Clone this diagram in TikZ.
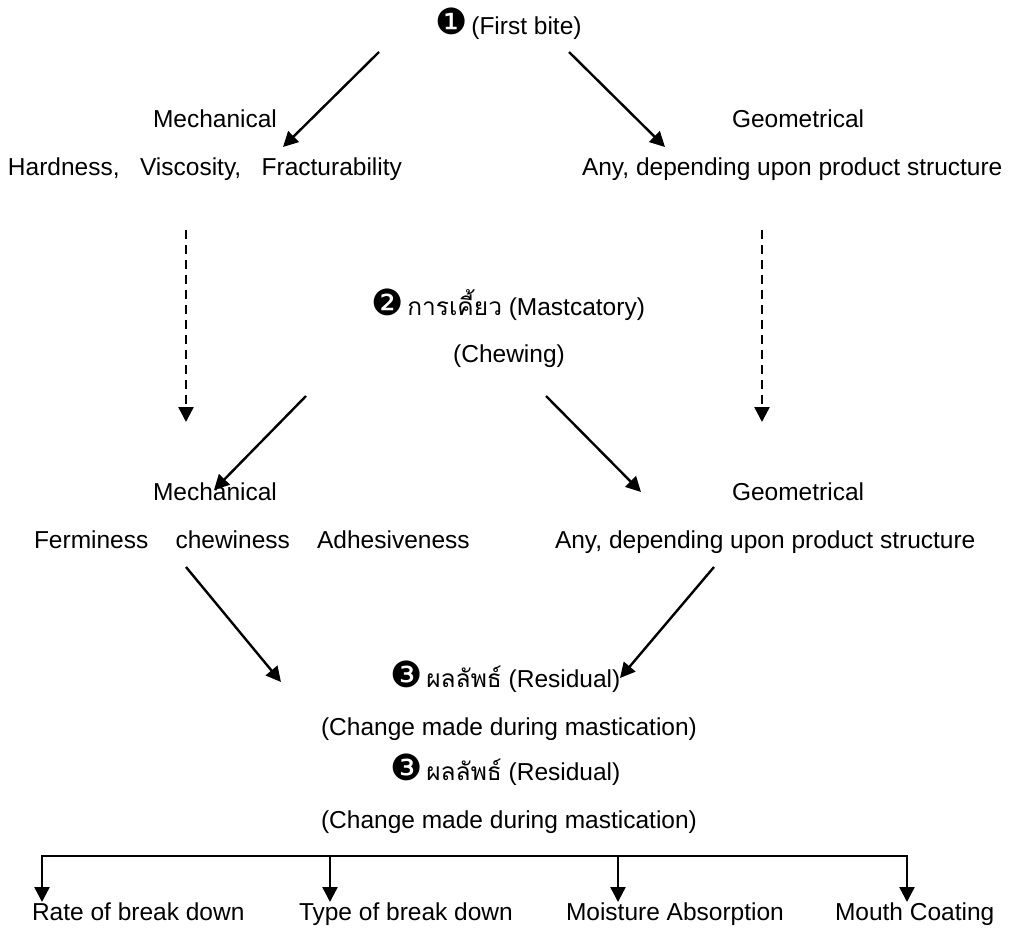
\documentclass[tikz,border=0pt]{standalone}
\usepackage{fontspec}
\setmainfont{Liberation Sans}
\newfontfamily\thaifont[Script=Thai]{Loma}
\newfontfamily\dingfont{DejaVu Sans}
\usetikzlibrary{arrows.meta}
\newcommand{\numc}[1]{{\dingfont\fontsize{36}{36}\selectfont #1}}
\newcommand{\thtxt}[1]{{\thaifont #1}}
\begin{document}
\begin{tikzpicture}[x=1pt,y=-1pt,
  lbl/.style={inner sep=0pt,outer sep=0pt,font=\fontsize{24.5}{29}\selectfont},
  arr/.style={line width=2.4pt,-{Triangle[length=15pt,width=15pt]}},
  darr/.style={arr,dash pattern=on 9pt off 6pt}]
\useasboundingbox (0,0) rectangle (1011,929);
% texts
\node[lbl,anchor=base west] (first) at (435,34) {\numc{❶}\,(First bite)};
\node[lbl,anchor=base] (mech1) at (215,127) {Mechanical};
\node[lbl,anchor=base west] (mechp1) at (8,175) {Hardness,\ \ \ Viscosity,\ \ \ Fracturability};
\node[lbl,anchor=base west] (geo1) at (732,127) {Geometrical};
\node[lbl,anchor=base west] (geop1) at (582,175) {Any, depending upon product structure};
\node[lbl,anchor=base west] (chew) at (371,315) {\numc{❷}\,\thtxt{การเคี้ยว} (Mastcatory)};
\node[lbl,anchor=base] (chew2) at (509,362) {(Chewing)};
\node[lbl,anchor=base] (mech2) at (215,500) {Mechanical};
\node[lbl,anchor=base west] (mechp2) at (34,548) {Ferminess\ \ \ \ chewiness\ \ \ \ Adhesiveness};
\node[lbl,anchor=base west] (geo2) at (732,500) {Geometrical};
\node[lbl,anchor=base west] (geop2) at (555,548) {Any, depending upon product structure};
\node[lbl,anchor=base west] (res1) at (390,687) {\numc{❸}\,\thtxt{ผลลัพธ์} (Residual)};
\node[lbl,anchor=base] (chg1) at (509,735) {(Change made during mastication)};
\node[lbl,anchor=base west] (res2) at (390,780) {\numc{❸}\,\thtxt{ผลลัพธ์} (Residual)};
\node[lbl,anchor=base] (chg2) at (509,828) {(Change made during mastication)};
\node[lbl,anchor=base west] (o1) at (32,920) {Rate of break down};
\node[lbl,anchor=base west] (o2) at (299,920) {Type of break down};
\node[lbl,anchor=base west] (o3) at (566,920) {Moisture Absorption};
\node[lbl,anchor=base west] (o4) at (835,920) {Mouth Coating};
% connector end points
\coordinate (s1) at (379,52);  \coordinate (t1) at (283,147);
\coordinate (s2) at (569,52);  \coordinate (t2) at (665,147);
\coordinate (s3) at (186,230); \coordinate (t3) at (186,422);
\coordinate (s4) at (762,230); \coordinate (t4) at (762,422);
\coordinate (s5) at (306,396); \coordinate (t5) at (214,490);
\coordinate (s6) at (546,396); \coordinate (t6) at (641,492);
\coordinate (s7) at (186,567); \coordinate (t7) at (281,682);
\coordinate (s8) at (714,567); \coordinate (t8) at (620,678);
\coordinate (b1) at (42,856);  \coordinate (b2) at (330,856);
\coordinate (b3) at (618,856); \coordinate (b4) at (907,856);
\coordinate (e1) at (42,902);  \coordinate (e2) at (330,902);
\coordinate (e3) at (618,902); \coordinate (e4) at (907,902);
% connectors
\draw[arr] (s1) -- (t1);
\draw[arr] (s2) -- (t2);
\draw[darr] (s3) -- (t3);
\draw[darr] (s4) -- (t4);
\draw[arr] (s5) -- (t5);
\draw[arr] (s6) -- (t6);
\draw[arr] (s7) -- (t7);
\draw[arr] (s8) -- (t8);
\draw[line width=2.4pt,line cap=rect] (b1) -- (b4);
\draw[arr] (b1) -- (e1);
\draw[arr] (b2) -- (e2);
\draw[arr] (b3) -- (e3);
\draw[arr] (b4) -- (e4);
\end{tikzpicture}
\end{document}
